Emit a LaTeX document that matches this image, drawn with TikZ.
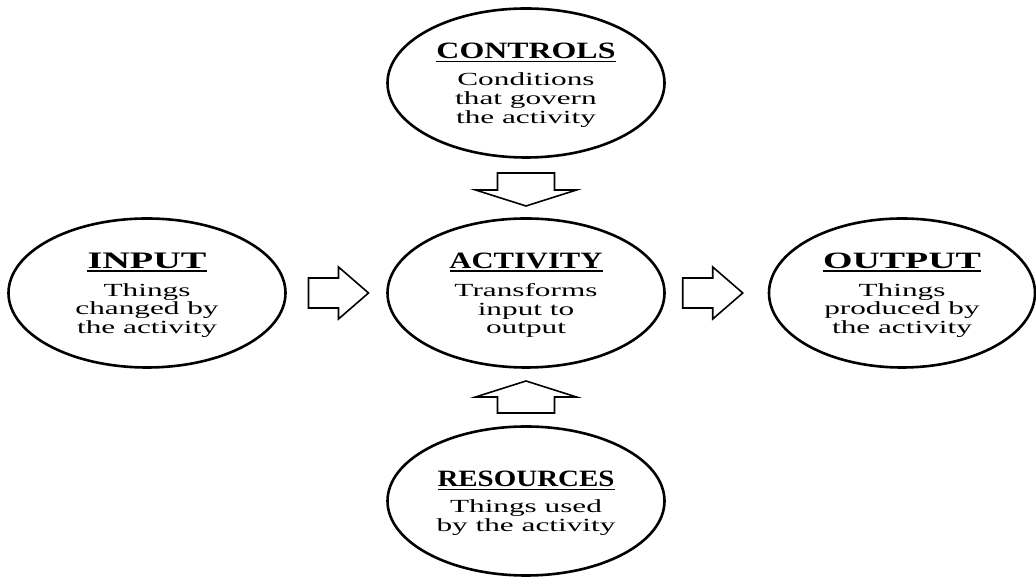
\documentclass[tikz,border=0pt]{standalone}
\usepackage{fontspec}
\usepackage{graphicx}
\usepackage{tikz}
\usetikzlibrary{shapes.geometric,positioning,calc}

\newfontfamily\bodyfont{Liberation Serif}[FakeStretch=1.69]
\newcommand{\heading}[2]{\sbox0{\resizebox{#1}{15.5pt}{\bfseries #2}}\leavevmode\rule{0pt}{20pt}\rlap{\raisebox{-3.5pt}{\rule{\wd0}{1.6pt}}}\usebox0}

\begin{document}
\begin{tikzpicture}[x=1pt,y=1pt,
	stage/.style={ellipse,draw,line width=2.6pt,minimum width=277pt,minimum height=149pt,inner sep=0pt,align=center,font=\bodyfont\fontsize{18.5}{18.7}\selectfont},
	blockarrow/.style={draw,line width=1.6pt,line join=miter,fill=white}]
		\useasboundingbox (0,0) rectangle (1036,577);

		\node[stage] (activity) at (526,284) {\heading{153pt}{ACTIVITY}\\[9.3pt]Transforms\\input to\\output};
		\node[stage] (input) [left of=activity,node distance=379pt] {\heading{119pt}{INPUT}\\[9.3pt]Things\\changed by\\the activity};
		\node[stage,minimum width=266pt] (output) [right of=activity,node distance=376pt] {\heading{158pt}{OUTPUT}\\[9.3pt]Things\\produced by\\the activity};
		\node[stage] (controls) [above of=activity,node distance=210pt] {\heading{179pt}{CONTROLS}\\[8.3pt]Conditions\\that govern\\the activity};
		\node[stage] (resources) [below of=activity,node distance=208pt] {\heading{177pt}{RESOURCES}\\[7.3pt]Things used\\by the activity};

		\coordinate (inarr) at ($(input.east)!0.5!(activity.west)$);
		\coordinate (outarr) at ($(activity.east)!0.5!(output.west)$);
		\coordinate (ctlarr) at ($(controls.south)!0.5!(activity.north)$);
		\coordinate (resarr) at ($(activity.south)!0.5!(resources.north)$);

		\draw[blockarrow] ($(inarr)+(-28,-15)$) -- ++(30,0) -- ++(0,-11) -- ++(30,26) -- ++(-30,26) -- ++(0,-11) -- ++(-30,0) -- cycle;
		\draw[blockarrow] ($(outarr)+(-34,-15)$) -- ++(30,0) -- ++(0,-11) -- ++(30,26) -- ++(-30,26) -- ++(0,-11) -- ++(-30,0) -- cycle;
		\draw[blockarrow] ($(ctlarr)+(-28.5,15)$) -- ++(57,0) -- ++(0,-17) -- ++(22,0) -- ++(-50.5,-16) -- ++(-50.5,16) -- ++(22,0) -- cycle;
		\draw[blockarrow] ($(resarr)+(-28.5,-16)$) -- ++(57,0) -- ++(0,16) -- ++(22,0) -- ++(-50.5,16) -- ++(-50.5,-16) -- ++(22,0) -- cycle;
	\end{tikzpicture}
\end{document}
